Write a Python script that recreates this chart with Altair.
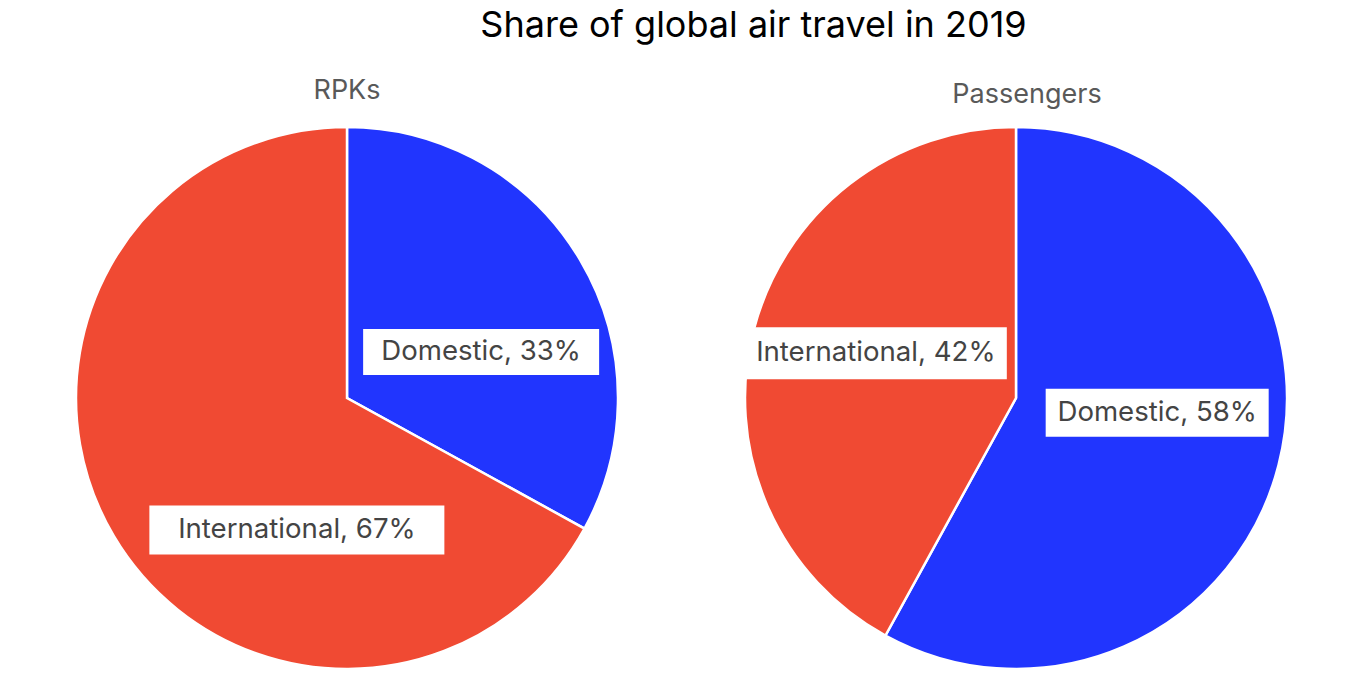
import math
import altair as alt
import pandas as pd

# ---- data ----
panel_titles = ["RPKs", "Passengers"]
categories = ["Domestic", "International"]
rpk_share = [33, 67]
passenger_share = [58, 42]

# ---- style ----
colors = ["#2135FE", "#F04A33"]
FONT = "Inter"
PIE = 542
LABEL_R = 0.515
# per-label nudges (px) and white box sizes (px)
label_style = {
    ("RPKs", "Domestic"): dict(dx=14, dy=25, w=236, h=46),
    ("RPKs", "International"): dict(dx=70, dy=61, w=295, h=49),
    ("Passengers", "International"): dict(dx=-5, dy=-10, w=262, h=52),
    ("Passengers", "Domestic"): dict(dx=6, dy=-20, w=223, h=48),
}


def panel(title, values, title_dx=0, title_dy=0):
    df = pd.DataFrame({"category": categories, "value": values})
    base = (
        alt.Chart(df)
        .transform_window(end="sum(value)", frame=[None, 0], sort=[{"field": "category"}])
        .transform_calculate(
            start="datum.end - datum.value",
            mid="datum.end - datum.value / 2",
        )
        .transform_calculate(
            lx=f"{LABEL_R} * sin(2 * PI * datum.mid / 100)",
            ly=f"{LABEL_R} * cos(2 * PI * datum.mid / 100)",
            label="datum.category + ', ' + datum.value + '%'",
        )
    )
    arcs = base.mark_arc(stroke="white", strokeWidth=2.5).encode(
        theta=alt.Theta("start:Q", scale=alt.Scale(domain=[0, 100])),
        theta2="end:Q",
        color=alt.Color("category:N", scale=alt.Scale(domain=categories, range=colors), legend=None),
    )
    xs = alt.X("lx:Q", scale=alt.Scale(domain=[-1, 1]), axis=None)
    ys = alt.Y("ly:Q", scale=alt.Scale(domain=[-1, 1]), axis=None)
    layers = [arcs]
    for cat in categories:
        st = label_style[(title, cat)]
        sub = base.transform_filter(alt.datum.category == cat)
        box = sub.mark_rect(
            color="white",
            xOffset=st["dx"] - st["w"] / 2,
            x2Offset=st["dx"] + st["w"] / 2,
            yOffset=st["dy"] - st["h"] / 2,
            y2Offset=st["dy"] + st["h"] / 2,
        ).encode(x=xs, x2="lx:Q", y=ys, y2="ly:Q")
        txt = sub.mark_text(
            font=FONT, fontSize=27.6, color="#444444", align="center", baseline="middle",
            dx=st["dx"], dy=st["dy"],
        ).encode(x=xs, y=ys, text="label:N")
        layers += [box, txt]
    return alt.layer(*layers).properties(
        width=PIE,
        height=PIE,
        title=alt.TitleParams(
            title, font=FONT, fontSize=27, fontWeight="normal", color="#595959",
            anchor="middle", offset=17, dx=title_dx, dy=title_dy,
        ),
    )


chart = (
    alt.hconcat(
        panel(panel_titles[0], rpk_share),
        panel(panel_titles[1], passenger_share, title_dx=11, title_dy=4),
        spacing=117,
    )
    .properties(
        title=alt.TitleParams(
            "Share of global air travel in 2019", font=FONT, fontSize=36,
            fontWeight="normal", color="#000000", anchor="middle", dx=72, offset=32,
        ),
        padding={"left": 63, "top": 0, "right": 5, "bottom": 5},
    )
    .configure_view(stroke=None)
)

chart.save("out.html", embed_options={"renderer": "svg", "actions": False})
